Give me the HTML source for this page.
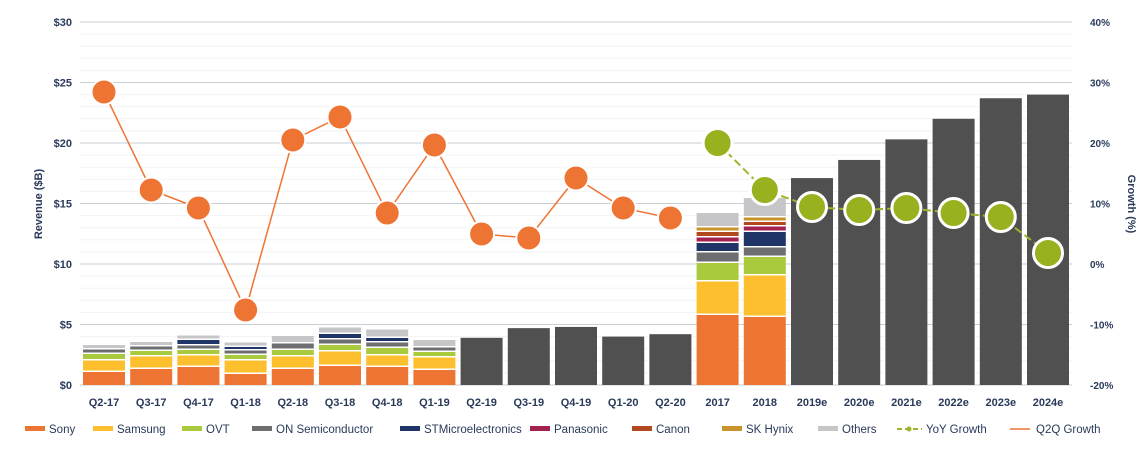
<!DOCTYPE html>
<html><head><meta charset="utf-8"><style>
html,body{margin:0;padding:0;background:#fff;}
svg{display:block;font-family:"Liberation Sans",sans-serif;}
</style></head><body>
<svg id="c" width="1145" height="450" xmlns="http://www.w3.org/2000/svg"></svg>
<script>
const s=document.getElementById('c');let h='';
const y0=385,pp=60.5/5;
for(let i=0;i<=30;i+=1){const y=y0-i*pp; if(i%5==0) h+=`<line x1="80" x2="1072" y1="${y}" y2="${y}" stroke="#c8cdd6" stroke-width="1"/>`; else h+=`<line x1="80" x2="1072" y1="${y}" y2="${y}" stroke="#f2f3f5" stroke-width="1"/>`;}
for(let i=0;i<=30;i+=5){const y=y0-i*pp;h+=`<text x="72" y="${y+4}" font-size="11" font-weight="bold" fill="#2a3a5a" text-anchor="end">$${i}</text>`;}
const pc=['40%','30%','20%','10%','0%','-10%','-20%'];
pc.forEach((t,i)=>{const y=22+i*60.5;h+=`<text x="1090" y="${y+4}" font-size="10" font-weight="bold" fill="#2a3a5a">${t}</text>`;});
h+=`<text transform="translate(42,204) rotate(-90)" font-size="11" font-weight="bold" fill="#2a3a5a" text-anchor="middle">Revenue ($B)</text>`;
h+=`<text transform="translate(1128,204) rotate(90)" font-size="11" font-weight="bold" fill="#2a3a5a" text-anchor="middle">Growth (%)</text>`;
const cols=['#ee7434','#fdbf2d','#a9ca3c','#6d6e70','#1f3568','#a3224f','#b2481d','#c9932b','#c6c6c8'];
const labels=['Q2-17','Q3-17','Q4-17','Q1-18','Q2-18','Q3-18','Q4-18','Q1-19','Q2-19','Q3-19','Q4-19','Q1-20','Q2-20','2017','2018','2019e','2020e','2021e','2022e','2023e','2024e'];
const stacks=[
[13,10,5,3,0,0,0,0,3],[16,11,4,3,0,0,0,0,3],[18,10,4,3,4,0,0,0,3],[11,12,4,3,2,0,0,0,3],
[16,11,5,5,0,0,0,0,6],[19,13,5,4,4,0,0,0,5],[18,10,6,4,3,0,0,0,7],[15,11,4,3,0,0,0,0,6]];
const solid={8:3.9,9:4.7,10:4.8,11:4.0,12:4.2,15:17.1,16:18.6,17:20.3,18:22,19:23.7,20:24};
const big={13:[70,32,17,9,8,4,4,3,13],14:[68,40,17,8,14,4,3,3,18]};
labels.forEach((l,i)=>{const cx=104+i*47.2,x=cx-21,w=42;
 h+=`<text x="${cx}" y="406" font-size="11" font-weight="bold" fill="#2a3a5a" text-anchor="middle">${l}</text>`;
 if(solid[i]!==undefined){const t=y0-solid[i]*pp;h+=`<rect x="${x}" y="${t}" width="${w}" height="${y0-t}" fill="#505050"/>`;}
 else{const st=stacks[i]||big[i];let y=y0;st.forEach((v,k)=>{if(!v)return;h+=`<rect x="${x}" y="${y-v}" width="${w}" height="${v}" fill="${cols[k]}"/>`;y-=v;h+=`<rect x="${x}" y="${y-1.5}" width="${w}" height="1.5" fill="#fff"/>`;y-=1.5;});}
});
const og=[92,190,208,310,140,117,213,145,234,238,178,208,218];
const gg=[143,190,207,210,208,213,217,253];
let p='';og.forEach((y,i)=>p+=(i?'L':'M')+(104+i*47.2)+' '+y);
h+=`<path d="${p}" fill="none" stroke="#ee7434" stroke-width="1.5"/>`;
p='';gg.forEach((y,i)=>p+=(i?'L':'M')+(104+(13+i)*47.2)+' '+y);
h+=`<path d="${p}" fill="none" stroke="#9cb52a" stroke-width="2" stroke-dasharray="8 4"/>`;
og.forEach((y,i)=>h+=`<circle cx="${104+i*47.2}" cy="${y}" r="12.5" fill="#ee7434" stroke="#fff" stroke-width="2"/>`);
gg.forEach((y,i)=>h+=`<circle cx="${104+(13+i)*47.2}" cy="${y}" r="14.5" fill="#97b11f" stroke="#fff" stroke-width="3"/>`);
const lg=[['Sony',25],['Samsung',93],['OVT',182],['ON Semiconductor',252],['STMicroelectronics',400],['Panasonic',530],['Canon',632],['SK Hynix',722],['Others',818]];
lg.forEach((e,k)=>{h+=`<rect x="${e[1]}" y="426" width="20" height="5" fill="${cols[k]}"/><text x="${e[1]+24}" y="433" font-size="11.5" fill="#2a3a5a">${e[0]}</text>`;});
h+=`<line x1="897" x2="922" y1="429" y2="429" stroke="#9cb52a" stroke-width="2" stroke-dasharray="5 3"/><circle cx="909" cy="429" r="2.5" fill="#9cb52a"/><text x="926" y="433" font-size="11.5" fill="#2a3a5a">YoY Growth</text>`;
h+=`<line x1="1010" x2="1030" y1="429" y2="429" stroke="#ee7434" stroke-width="1.5"/><text x="1036" y="433" font-size="11.5" fill="#2a3a5a">Q2Q Growth</text>`;
s.innerHTML=h;
</script>
</body></html>
